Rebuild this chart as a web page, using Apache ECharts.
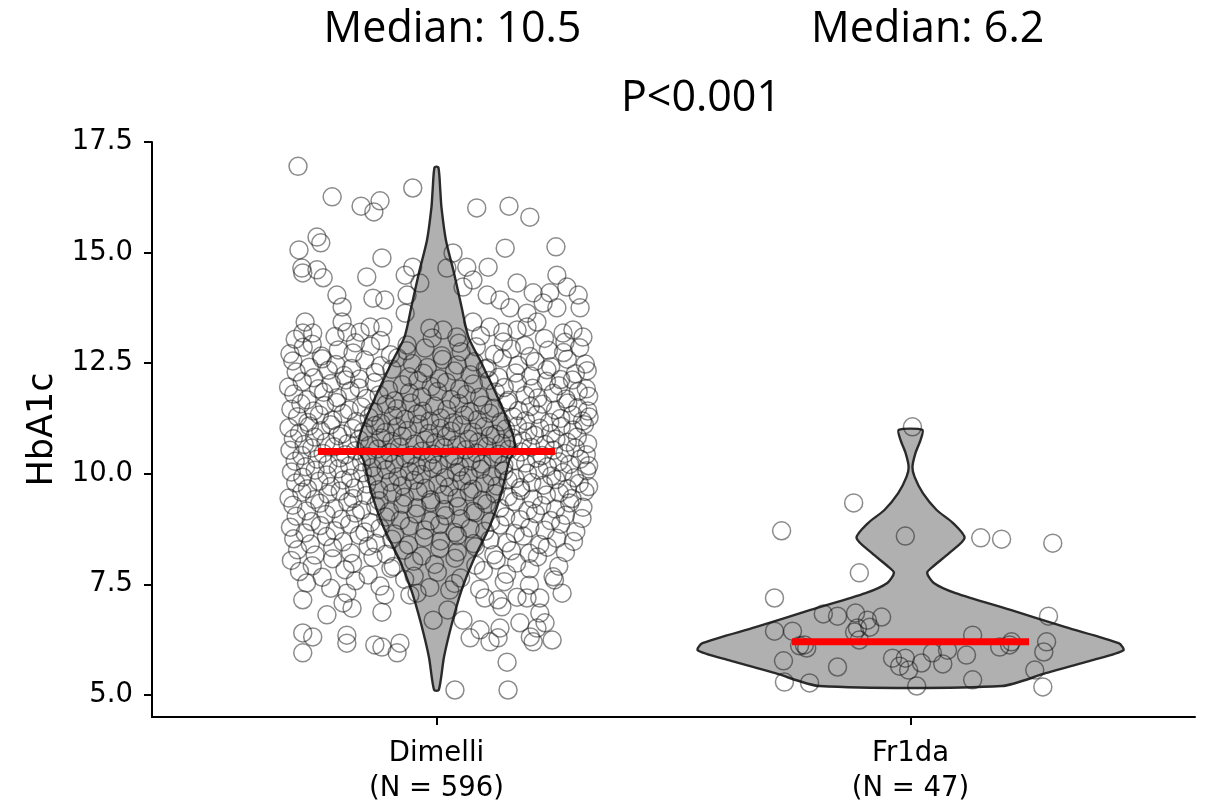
<!DOCTYPE html>
<html><head><meta charset="utf-8">
<script src="https://cdn.jsdelivr.net/npm/echarts@6/dist/echarts.min.js"></script>
<style>html,body{margin:0;padding:0;background:#fff}#c{width:1206px;height:808px}</style>
</head><body><div id="c"></div>
<script>
// ---------- data ----------
const categories = ['Dimelli', 'Fr1da'];
const groupN = [596, 47];
const groupPos = [1, 2];
const medians = [10.5, 6.2];
const pValueText = 'P<0.001';
const yTicks = [5, 7.5, 10, 12.5, 15, 17.5];
const medianHalfWidth = 0.25;

// violin outlines: HbA1c level and half-width (in category units)
const dimelliViolinY = [5.11, 5.86, 6.63, 7.37, 8.05, 8.80, 9.56, 10.31, 10.54, 10.99, 11.73, 12.50, 13.09, 13.77, 14.54, 15.28, 16.03, 16.42, 16.93];
const dimelliViolinHalfWidth = [0.005, 0.016, 0.033, 0.053, 0.078, 0.112, 0.137, 0.154, 0.166, 0.158, 0.129, 0.095, 0.0675, 0.053, 0.037, 0.020, 0.0105, 0.008, 0.004];
const fr1daViolinY = [5.20, 5.49, 5.79, 6.01, 6.17, 6.53, 6.92, 7.30, 7.53, 7.76, 7.89, 8.21, 8.55, 8.89, 9.18, 9.56, 9.93, 10.15, 10.47, 10.76, 10.99];
const fr1daViolinHalfWidth = [0.192, 0.285, 0.386, 0.449, 0.439, 0.327, 0.211, 0.095, 0.049, 0.035, 0.046, 0.082, 0.114, 0.089, 0.055, 0.026, 0.0085, 0.004, 0.0105, 0.021, 0.025];

// jittered points: [horizontal jitter offset, HbA1c]
const dimelliPoints = [
[-.292,16.95],[-.220,16.26],[-.159,16.05],[-.119,16.17],[-.132,15.92],[-.050,16.46],[.085,16.01],[.153,16.05],[.197,15.80],[-.252,15.35],[-.244,15.22],[-.290,15.06],[-.115,14.88],[-.284,14.65],[-.282,14.54],[-.252,14.61],[-.239,14.43],[-.147,14.45],[-.066,14.49],[-.050,14.67],[-.035,14.31],[.022,14.65],[.035,14.99],[.064,14.67],[.077,14.38],[.056,14.22],[.109,14.67],[.145,15.10],[.252,15.13],[.170,14.31],[.204,14.09],[.254,14.49],[.275,14.22],[.299,14.04],[.303,13.75],[.239,14.09],[.225,13.86],[.254,13.75],[-.210,14.04],[-.199,13.77],[-.134,13.97],[-.109,13.93],[-.062,14.04],[-.066,13.63],[.107,14.04],[.134,13.93],[.155,13.75],[.191,13.63],[.212,13.43],[-.014,13.29],[.014,13.25],[.077,13.43],[-.277,13.43],[-.282,13.18],[-.261,13.18],[-.199,13.43],[-.189,13.20],[-.161,13.20],[-.140,13.32],[-.113,13.32],[.113,13.32],[.140,13.20],[.170,13.25],[.191,13.32],[.267,13.18],[.288,13.25],[.043,13.09],
[-.298,13.04],[-.262,12.93],[-.214,13.1],[-.171,12.96],[-.118,13.01],[-.062,12.91],[-.009,13.07],[.047,12.95],[.093,13.12],[.141,12.98],[.186,12.9],[.228,13.06],[.271,12.97],[.309,13.09],
[-.309,12.71],[-.281,12.86],[-.243,12.66],[-.207,12.8],[-.176,12.73],[-.139,12.88],[-.097,12.69],[-.063,12.78],[-.024,12.84],[.011,12.67],[.052,12.76],[.084,12.87],[.122,12.7],[.158,12.82],[.197,12.65],[.236,12.79],[.268,12.74],[.302,12.85],
[-.303,12.55],[-.268,12.41],[-.241,12.6],[-.212,12.47],[-.179,12.38],[-.151,12.57],[-.118,12.44],[-.082,12.62],[-.051,12.49],[-.019,12.4],[.013,12.58],[.044,12.46],[.079,12.53],[.107,12.39],[.139,12.61],[.172,12.45],[.208,12.54],[.241,12.42],[.276,12.59],[.314,12.48],
[-.296,12.3],[-.259,12.17],[-.228,12.34],[-.195,12.22],[-.162,12.14],[-.129,12.29],[-.094,12.36],[-.058,12.19],[-.027,12.27],[.006,12.15],[.038,12.32],[.071,12.24],[.103,12.37],[.131,12.18],[.167,12.28],[.199,12.21],[.233,12.35],[.262,12.13],[.293,12.26],[.318,12.33],
[-.312,11.96],[-.283,12.08],[-.249,11.92],[-.222,12.04],[-.191,12.12],[-.163,11.94],[-.131,12.06],[-.101,11.9],[-.072,12.01],[-.039,12.1],[-.011,11.97],[.021,12.07],[.049,11.91],[.078,12.03],[.111,12.11],[.143,11.95],[.171,12.05],[.203,11.93],[.232,12.09],[.258,11.99],[.287,12.12],[.316,11.92],
[-.301,11.8],[-.273,11.67],[-.238,11.84],[-.209,11.72],[-.182,11.87],[-.148,11.7],[-.121,11.78],[-.088,11.65],[-.057,11.83],[-.031,11.74],[.002,11.86],[.031,11.68],[.063,11.79],[.091,11.73],[.124,11.85],[.152,11.66],[.187,11.77],[.214,11.71],[.246,11.82],[.273,11.69],[.299,11.86],[.321,11.75],
[-.307,11.46],[-.286,11.58],[-.259,11.42],[-.236,11.54],[-.211,11.61],[-.184,11.44],[-.158,11.51],[-.133,11.39],[-.106,11.57],[-.083,11.47],[-.054,11.6],[-.029,11.41],[-.004,11.53],[.022,11.45],[.047,11.59],[.071,11.4],[.098,11.55],[.121,11.48],[.149,11.62],[.173,11.43],[.198,11.52],[.224,11.57],[.251,11.44],[.277,11.6],[.298,11.49],[.319,11.42],
[-.293,11.29],[-.271,11.16],[-.247,11.33],[-.219,11.21],[-.197,11.36],[-.169,11.18],[-.142,11.27],[-.117,11.14],[-.091,11.31],[-.066,11.23],[-.041,11.35],[-.014,11.19],[.009,11.26],[.036,11.15],[.059,11.32],[.087,11.22],[.112,11.37],[.136,11.17],[.162,11.28],[.188,11.2],[.212,11.34],[.239,11.16],[.262,11.25],[.287,11.33],[.308,11.19],[.322,11.28],
[-.311,11.04],[-.289,10.92],[-.268,11.08],[-.244,10.97],[-.223,11.11],[-.199,10.9],[-.176,11.02],[-.154,10.95],[-.129,11.09],[-.108,10.93],[-.084,11.05],[-.061,10.98],[-.037,11.12],[-.016,10.91],[.008,11.03],[.031,10.96],[.053,11.1],[.077,10.94],[.101,11.06],[.124,10.89],[.146,11.01],[.171,11.08],[.193,10.95],[.218,11.03],[.241,10.91],[.263,11.07],[.288,10.99],[.312,11.11],
[-.302,10.79],[-.279,10.66],[-.257,10.83],[-.233,10.71],[-.208,10.86],[-.187,10.68],[-.163,10.77],[-.141,10.64],[-.117,10.81],[-.094,10.73],[-.072,10.85],[-.046,10.67],[-.024,10.76],[-.002,10.7],[.021,10.84],[.043,10.65],[.068,10.78],[.089,10.72],[.114,10.86],[.137,10.69],[.161,10.8],[.182,10.74],[.207,10.87],[.229,10.66],[.252,10.78],[.276,10.71],[.297,10.83],[.319,10.68],
[-.309,10.53],[-.284,10.41],[-.263,10.58],[-.239,10.46],[-.216,10.61],[-.192,10.43],[-.171,10.52],[-.146,10.39],[-.124,10.56],[-.099,10.48],[-.078,10.6],[-.053,10.42],[-.031,10.51],[-.007,10.44],[.016,10.59],[.038,10.4],[.062,10.54],[.084,10.47],[.107,10.62],[.131,10.44],[.153,10.55],[.178,10.49],[.199,10.6],[.223,10.41],[.247,10.53],[.271,10.46],[.293,10.58],[.316,10.43],
[-.298,10.28],[-.276,10.16],[-.252,10.33],[-.229,10.21],[-.204,10.36],[-.183,10.18],[-.158,10.27],[-.136,10.14],[-.112,10.31],[-.089,10.23],[-.066,10.35],[-.042,10.17],[-.019,10.26],[.004,10.2],[.027,10.34],[.049,10.15],[.073,10.29],[.096,10.22],[.119,10.37],[.142,10.19],[.166,10.3],[.188,10.24],[.211,10.35],[.234,10.16],[.258,10.27],[.281,10.21],[.303,10.33],[.321,10.18],
[-.306,10.04],[-.282,9.92],[-.256,10.08],[-.231,9.97],[-.207,10.11],[-.181,9.9],[-.156,10.02],[-.132,9.95],[-.106,10.09],[-.081,9.93],[-.057,10.05],[-.032,9.98],[-.008,10.12],[.018,9.91],[.042,10.03],[.067,9.96],[.093,10.1],[.117,9.94],[.142,10.06],[.166,9.89],[.192,10.01],[.216,10.08],[.243,9.95],[.267,10.03],[.291,9.91],[.317,10.07],
[-.297,9.79],[-.272,9.66],[-.248,9.83],[-.223,9.71],[-.197,9.86],[-.173,9.68],[-.147,9.77],[-.122,9.64],[-.098,9.81],[-.072,9.73],[-.047,9.85],[-.023,9.67],[.003,9.76],[.027,9.7],[.053,9.84],[.077,9.65],[.102,9.78],[.128,9.72],[.151,9.86],[.177,9.69],[.201,9.8],[.226,9.74],[.252,9.87],[.276,9.66],[.301,9.78],[.321,9.71],
[-.311,9.45],[-.284,9.58],[-.257,9.42],[-.229,9.54],[-.203,9.61],[-.176,9.44],[-.148,9.51],[-.121,9.39],[-.093,9.57],[-.067,9.47],[-.039,9.6],[-.012,9.41],[.016,9.53],[.043,9.45],[.069,9.59],[.097,9.4],[.124,9.55],[.151,9.48],[.178,9.62],[.204,9.43],[.232,9.52],[.259,9.57],[.286,9.44],[.313,9.6],
[-.303,9.29],[-.274,9.16],[-.246,9.33],[-.216,9.21],[-.187,9.36],[-.158,9.18],[-.128,9.27],[-.099,9.14],[-.071,9.31],[-.041,9.23],[-.012,9.35],[.017,9.19],[.046,9.26],[.077,9.15],[.106,9.32],[.134,9.22],[.164,9.37],[.193,9.17],[.222,9.28],[.251,9.2],[.281,9.34],[.309,9.24],
[-.296,9.04],[-.264,8.92],[-.233,9.08],[-.201,8.97],[-.171,9.11],[-.139,8.9],[-.107,9.02],[-.076,8.95],[-.043,9.09],[-.013,8.93],[.019,9.05],[.051,8.98],[.082,9.12],[.114,8.91],[.146,9.03],[.177,8.96],[.209,9.1],[.241,8.94],[.272,9.06],[.307,8.99],
[-.308,8.79],[-.277,8.66],[-.245,8.83],[-.214,8.71],[-.183,8.86],[-.151,8.68],[-.119,8.77],[-.088,8.64],[-.057,8.81],[-.024,8.73],[.007,8.85],[.039,8.67],[.071,8.76],[.102,8.7],[.134,8.84],[.166,8.65],[.197,8.78],[.229,8.72],[.262,8.86],[.294,8.69],
[-.301,8.53],[-.266,8.41],[-.232,8.58],[-.197,8.46],[-.163,8.61],[-.128,8.43],[-.094,8.52],[-.059,8.39],[-.026,8.56],[.009,8.48],[.044,8.6],[.079,8.42],[.113,8.51],[.148,8.44],[.183,8.59],[.218,8.4],[.254,8.54],[.289,8.47],
[-.293,8.28],[-.256,8.16],[-.219,8.33],[-.181,8.21],[-.144,8.36],[-.106,8.18],[-.069,8.27],[-.031,8.14],[.007,8.31],[.044,8.23],[.082,8.35],[.121,8.17],[.158,8.26],[.196,8.2],[.234,8.34],[.272,8.22],
[-.306,8.04],[-.262,7.92],[-.219,8.08],[-.177,7.97],[-.134,8.11],[-.091,7.9],[-.048,8.02],[-.004,7.95],[.039,8.09],[.083,7.93],[.126,8.05],[.169,7.98],[.213,8.12],[.258,7.91],
[-.289,7.79],[-.241,7.66],[-.193,7.83],[-.144,7.71],[-.096,7.86],[-.047,7.68],[.002,7.77],[.051,7.64],[.099,7.81],[.148,7.73],[.197,7.85],[.246,7.67],
[-.274,7.53],[-.223,7.41],[-.171,7.58],[-.119,7.46],[-.067,7.61],[-.014,7.43],[.038,7.52],[.091,7.39],[.143,7.56],[.196,7.48],[.249,7.6],
[-.282,7.15],[-.231,6.81],[-.197,7.08],[-.178,6.96],[-.189,7.30],[-.115,6.87],[-.109,7.26],[-.056,7.26],[-.041,7.30],[-.007,6.69],[.024,6.92],[.028,7.37],[.056,6.69],[.071,6.29],[.092,6.47],[.102,7.19],[.130,7.15],[.138,6.99],[.170,7.21],[.191,7.19],[.218,7.19],[.265,7.30],[.134,6.51],[.113,6.20],[.130,6.29],[.176,6.63],[.218,6.85],[.229,6.63],[.212,6.51],[.198,6.31],[.204,6.20],[.244,6.24],[-.282,6.40],[-.261,6.31],[-.282,5.95],[-.189,6.35],[-.189,6.17],[-.130,6.13],[-.115,6.08],[-.077,6.17],[-.083,5.95],[.149,5.74],[.039,5.11],[.151,5.11]
];
const fr1daPoints = [
[.004,11.06],[-.120,9.34],[-.272,8.71],[-.011,8.59],[.148,8.55],[.192,8.52],[.300,8.43],[-.108,7.76],[-.287,7.19],[-.184,6.83],[-.154,6.78],[-.116,6.85],[-.091,6.69],[-.061,6.76],[-.086,6.53],[-.118,6.42],[-.108,6.24],[-.287,6.44],[-.249,6.44],[-.234,6.11],[-.219,6.06],[-.268,5.77],[-.266,5.29],[-.213,5.27],[-.154,5.63],[-.038,5.83],[-.023,5.65],[-.004,5.56],[.023,5.72],[.046,5.95],[.068,5.70],[.078,6.01],[.118,5.90],[.131,6.35],[.013,5.20],[.131,5.34],[.188,6.08],[.213,6.20],[.291,6.78],[.287,6.20],[.281,5.97],[.262,5.56],[.279,5.18],[-.224,6.13],[-.011,5.83],[.209,6.13],[-.112,6.51]
];

// ---------- chart ----------
const FONT_AXIS = 'DejaVu Sans';
const FONT_TITLE = '"Open Sans"';
const violinY = [dimelliViolinY, fr1daViolinY];
const violinHW = [dimelliViolinHalfWidth, fr1daViolinHalfWidth];

const chart = echarts.init(document.getElementById('c'), null, {renderer: 'canvas'});

function pointsFor(idx, pts) {
  return pts.map(p => [groupPos[idx] + p[0], p[1]]);
}
const scatterStyle = {color: 'rgba(0,0,0,0)', borderColor: 'rgba(20,20,20,0.62)', borderWidth: 1.5};

const option = {
  animation: false,
  backgroundColor: '#ffffff',
  grid: {left: 152, right: 11, top: 142, bottom: 91, containLabel: false, outerBoundsMode: 'none'},
  xAxis: {
    type: 'value', min: 0.4, max: 2.6,
    splitLine: {show: false},
    axisLine: {show: true, onZero: false, lineStyle: {color: '#000', width: 2}},
    axisTick: {show: true, customValues: groupPos, length: 8, lineStyle: {color: '#000', width: 2}},
    axisLabel: {
      show: true, customValues: groupPos, margin: 19,
      color: '#000', fontFamily: FONT_AXIS, fontSize: 27.5, lineHeight: 35,
      formatter: v => {
        const i = groupPos.indexOf(v);
        return i < 0 ? '' : categories[i] + '\n(N = ' + groupN[i] + ')';
      }
    }
  },
  yAxis: {
    type: 'value', min: 4.5, max: 17.5,
    name: 'HbA1c', nameLocation: 'middle', nameRotate: 90, nameGap: 92,
    nameTextStyle: {color: '#000', fontFamily: FONT_AXIS, fontSize: 35},
    splitLine: {show: false},
    axisLine: {show: true, onZero: false, lineStyle: {color: '#000', width: 2}},
    axisTick: {show: true, customValues: yTicks, length: 8, lineStyle: {color: '#000', width: 2}},
    axisLabel: {
      show: true, customValues: yTicks, margin: 19,
      color: '#000', fontFamily: FONT_AXIS, fontSize: 27.5,
      formatter: v => Number(v).toFixed(1)
    }
  },
  graphic: [
    {type: 'text', x: 452.5, y: 30, style: {text: 'Median: ' + medians[0].toFixed(1), font: '43px ' + FONT_TITLE, fill: '#000', align: 'center', verticalAlign: 'middle'}},
    {type: 'text', x: 927.7, y: 30, style: {text: 'Median: ' + medians[1].toFixed(1), font: '43px ' + FONT_TITLE, fill: '#000', align: 'center', verticalAlign: 'middle'}},
    {type: 'text', x: 701, y: 99, style: {text: pValueText, font: '43px ' + FONT_TITLE, fill: '#000', align: 'center', verticalAlign: 'middle'}}
  ],
  series: [
    {
      type: 'custom', name: 'violin', z: 1, silent: true,
      data: [[groupPos[0], medians[0]], [groupPos[1], medians[1]]],
      renderItem: (params, api) => {
        const i = params.dataIndex;
        const ys = violinY[i], hw = violinHW[i], c = groupPos[i];
        const pts = [];
        for (let k = 0; k < ys.length; k++) pts.push(api.coord([c + hw[k], ys[k]]));
        for (let k = ys.length - 1; k >= 0; k--) pts.push(api.coord([c - hw[k], ys[k]]));
        return {type: 'polygon', shape: {points: pts, smooth: 0.25}, style: {fill: '#b0b0b0', stroke: '#2a2a2a', lineWidth: 2.4}};
      }
    },
    {type: 'scatter', name: categories[0], z: 2, silent: true, symbol: 'circle', symbolSize: 18, itemStyle: scatterStyle, data: pointsFor(0, dimelliPoints)},
    {type: 'scatter', name: categories[1], z: 2, silent: true, symbol: 'circle', symbolSize: 18, itemStyle: scatterStyle, data: pointsFor(1, fr1daPoints)},
    {type: 'line', z: 3, silent: true, symbol: 'none', lineStyle: {color: '#ff0000', width: 7, cap: 'butt'},
      data: [[groupPos[0] - medianHalfWidth, medians[0]], [groupPos[0] + medianHalfWidth, medians[0]]]},
    {type: 'line', z: 3, silent: true, symbol: 'none', lineStyle: {color: '#ff0000', width: 7, cap: 'butt'},
      data: [[groupPos[1] - medianHalfWidth, medians[1]], [groupPos[1] + medianHalfWidth, medians[1]]]}
  ]
};
chart.setOption(option);
</script>
</body></html>
